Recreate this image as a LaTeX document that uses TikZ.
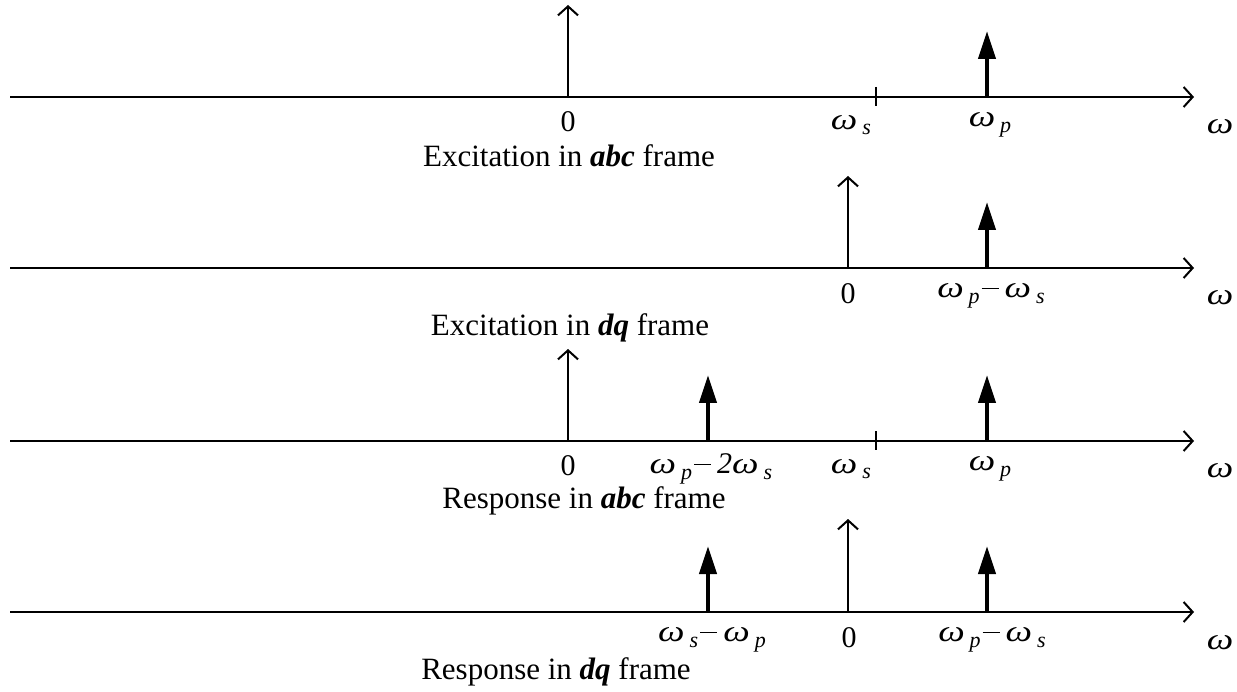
\documentclass[tikz,border=0pt]{standalone}
\usepackage{fontspec}
\setmainfont{Liberation Serif}
\usetikzlibrary{arrows.meta}
\newcommand{\om}{\scalebox{1.25}[1]{\textit{ω}}}
\newcommand{\sbs}[1]{\kern5pt\raisebox{-0.4ex}{\fontsize{22}{24}\selectfont\textit{#1}}}
\newcommand{\mn}{\kern2pt\raisebox{8.5pt}{\rule{17pt}{1.7pt}}\kern6pt}
\begin{document}
\begin{tikzpicture}[x=1pt,y=-1pt,
  axisline/.style={line width=2pt,-{Straight Barb[length=9pt,width=20pt,line width=2pt]}},
  thinimp/.style={line width=2pt,-{Straight Barb[length=9pt,width=20pt,line width=2pt]}},
  thickimp/.style={line width=4pt,-{Triangle[length=28pt,width=17pt]}},
  tickmark/.style={line width=2pt},
  lbl/.style={font=\fontsize{30}{34}\selectfont,inner sep=0pt},
  captxt/.style={font=\fontsize{31}{35}\selectfont,inner sep=0pt}]
\useasboundingbox (0,0) rectangle (1237,692);
% Row 1
\coordinate (a1s) at (10,97); \coordinate (a1e) at (1194,97);
\draw[axisline] (a1s) -- (a1e);
\coordinate (i1b) at (568,97); \coordinate (i1t) at (568,5);
\draw[thinimp] (i1b) -- (i1t);
\coordinate (p1b) at (987,97); \coordinate (p1t) at (987,31);
\draw[thickimp] (p1b) -- (p1t);
\coordinate (t1a) at (876,87); \coordinate (t1b) at (876,106);
\draw[tickmark] (t1a) -- (t1b);
\node[lbl] (z1) at (568,122) {0};
\node[lbl] (ws1) at (851,125) {\om\sbs{s}};
\node[lbl] (wp1) at (990,125) {\om\sbs{p}};
\node[lbl] (w1) at (1220,127) {\om};
\node[captxt] (c1) at (569,156) {Excitation in \textbf{\textit{abc}} frame};
% Row 2
\coordinate (a2s) at (10,268); \coordinate (a2e) at (1194,268);
\draw[axisline] (a2s) -- (a2e);
\coordinate (i2b) at (848,268); \coordinate (i2t) at (848,176);
\draw[thinimp] (i2b) -- (i2t);
\coordinate (p2b) at (987,268); \coordinate (p2t) at (987,202);
\draw[thickimp] (p2b) -- (p2t);
\node[lbl] (z2) at (848,294) {0};
\node[lbl] (d2) at (991,296) {\om\sbs{p}\mn\om\sbs{s}};
\node[lbl] (w2) at (1220,298) {\om};
\node[captxt] (c2) at (570,328) {Excitation in \textbf{\textit{dq}} frame};
% Row 3
\coordinate (a3s) at (10,441); \coordinate (a3e) at (1194,441);
\draw[axisline] (a3s) -- (a3e);
\coordinate (i3b) at (568,441); \coordinate (i3t) at (568,349);
\draw[thinimp] (i3b) -- (i3t);
\coordinate (q3b) at (708,441); \coordinate (q3t) at (708,375);
\draw[thickimp] (q3b) -- (q3t);
\coordinate (p3b) at (987,441); \coordinate (p3t) at (987,375);
\draw[thickimp] (p3b) -- (p3t);
\coordinate (t3a) at (876,431); \coordinate (t3b) at (876,450);
\draw[tickmark] (t3a) -- (t3b);
\node[lbl] (z3) at (568,466) {0};
\node[lbl] (d3) at (711,469) {\om\sbs{p}\mn\textit{2}\om\sbs{s}};
\node[lbl] (ws3) at (851,469) {\om\sbs{s}};
\node[lbl] (wp3) at (990,469) {\om\sbs{p}};
\node[lbl] (w3) at (1220,471) {\om};
\node[captxt] (c3) at (584,501) {Response in \textbf{\textit{abc}} frame};
% Row 4
\coordinate (a4s) at (10,612); \coordinate (a4e) at (1194,612);
\draw[axisline] (a4s) -- (a4e);
\coordinate (q4b) at (708,612); \coordinate (q4t) at (708,546);
\draw[thickimp] (q4b) -- (q4t);
\coordinate (i4b) at (848,612); \coordinate (i4t) at (848,519);
\draw[thinimp] (i4b) -- (i4t);
\coordinate (p4b) at (987,612); \coordinate (p4t) at (987,546);
\draw[thickimp] (p4b) -- (p4t);
\node[lbl] (d4a) at (712,640) {\om\sbs{s}\mn\om\sbs{p}};
\node[lbl] (z4) at (849,638) {0};
\node[lbl] (d4b) at (992,640) {\om\sbs{p}\mn\om\sbs{s}};
\node[lbl] (w4) at (1220,643) {\om};
\node[captxt] (c4) at (556,672) {Response in \textbf{\textit{dq}} frame};
\end{tikzpicture}
\end{document}
